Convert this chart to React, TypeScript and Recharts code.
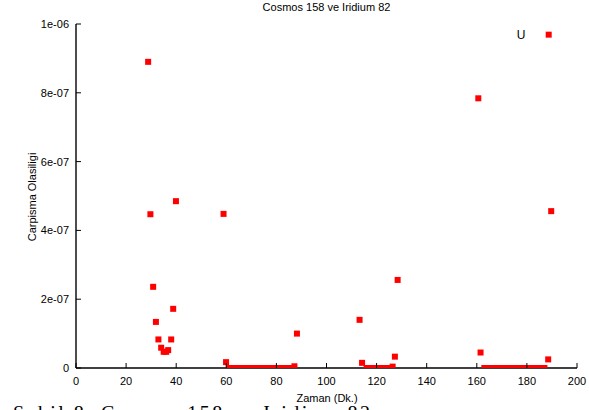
import React from 'react';
import { ScatterChart, Scatter, XAxis, YAxis } from 'recharts';

// ---- data (time in minutes, collision probability) ----
const clusterA_t = [28.8, 29.7, 30.8, 31.9, 32.9, 34.0, 35.0, 36.0, 36.8, 38.0, 38.8, 39.9];
const clusterA_p = [8.9e-7, 4.47e-7, 2.36e-7, 1.34e-7, 8.3e-8, 5.9e-8, 4.7e-8, 4.7e-8, 5.2e-8, 8.3e-8, 1.72e-7, 4.85e-7];

const clusterB_t = [58.9, 59.9, 61, 62, 63, 64, 65, 66, 67, 68, 69, 70, 71, 72, 73, 74, 75, 76, 77, 78, 79, 80, 81, 82, 83, 84, 85, 86, 87.2, 88.2];
const clusterB_p = [4.48e-7, 1.7e-8, 0, 0, 0, 0, 0, 0, 0, 0, 0, 0, 0, 0, 0, 0, 0, 0, 0, 0, 0, 0, 0, 0, 0, 0, 0, 0, 5e-9, 1.0e-7];

const clusterC_t = [113.2, 114.2, 116, 117, 118, 119, 120, 121, 122, 123, 124, 125, 126.4, 127.3, 128.4];
const clusterC_p = [1.4e-7, 1.5e-8, 0, 0, 0, 0, 0, 0, 0, 0, 0, 0, 4e-9, 3.3e-8, 2.56e-7];

const clusterD_t = [160.6, 161.5, 163, 164, 165, 166, 167, 168, 169, 170, 171, 172, 173, 174, 175, 176, 177, 178, 179, 180, 181, 182, 183, 184, 185, 186, 187, 188.5, 188.7, 189.7];
const clusterD_p = [7.84e-7, 4.5e-8, 0, 0, 0, 0, 0, 0, 0, 0, 0, 0, 0, 0, 0, 0, 0, 0, 0, 0, 0, 0, 0, 0, 0, 0, 0, 2.5e-8, 9.69e-7, 4.56e-7];

const xTicks = [0, 20, 40, 60, 80, 100, 120, 140, 160, 180, 200];
const yTicks = [0, 2e-7, 4e-7, 6e-7, 8e-7, 1e-6];
const yTickLabels = ['0', '2e-07', '4e-07', '6e-07', '8e-07', '1e-06'];

const title = 'Cosmos 158 ve Iridium 82';
const xLabel = 'Zaman (Dk.)';
const yLabel = 'Carpisma Olasiligi';
const keyLabel = 'U';
const caption = 'Şekil 8. Cosmos 158 ve Iridium 82';

const allT = [...clusterA_t, ...clusterB_t, ...clusterC_t, ...clusterD_t];
const allP = [...clusterA_p, ...clusterB_p, ...clusterC_p, ...clusterD_p];
const points = allT.map((t, i) => ({ t, p: allP[i] }));

const FONT = "'Liberation Sans', Arial, Helvetica, sans-serif";
const TICK = 5;
const X_MARGIN = 9;
const Y_MARGIN = 7;

const BottomTick = (props: any) => {
  const { x, y, payload } = props;
  const axisY = y - X_MARGIN;
  return (
    <g>
      <line x1={x} x2={x} y1={axisY} y2={axisY - TICK} stroke="#000" strokeWidth={1} />
      <text x={x} y={y} dy="0.71em" textAnchor="middle" fontFamily={FONT} fontSize={11} fill="#000">
        {payload.value}
      </text>
    </g>
  );
};

const TopTick = (props: any) => {
  const { x, y } = props;
  return <line x1={x} x2={x} y1={y} y2={y + TICK} stroke="#000" strokeWidth={1} />;
};

const LeftTick = (props: any) => {
  const { x, y, payload } = props;
  const axisX = x + Y_MARGIN;
  const idx = yTicks.indexOf(payload.value);
  return (
    <g>
      <line x1={axisX} x2={axisX + TICK} y1={y} y2={y} stroke="#000" strokeWidth={1} />
      <text x={x} y={y} dy="0.355em" textAnchor="end" fontFamily={FONT} fontSize={11} fill="#000">
        {idx >= 0 ? yTickLabels[idx] : String(payload.value)}
      </text>
    </g>
  );
};

const RightTick = (props: any) => {
  const { x, y } = props;
  return <line x1={x} x2={x - TICK} y1={y} y2={y} stroke="#000" strokeWidth={1} />;
};

const Square = (props: any) => {
  const { cx, cy } = props;
  if (cx == null || cy == null) return null;
  return <rect x={cx - 3} y={cy - 3} width={6} height={6} fill="#ff0000" />;
};

const axisLine = { stroke: '#000', strokeWidth: 1.4 };

export default function App() {
  return (
    <div style={{ position: 'absolute', left: 0, top: 0, width: 589, height: 410, background: '#fff', overflow: 'hidden' }}>
      <ScatterChart width={589} height={410} margin={{ top: 24, right: 12, bottom: 0, left: 0 }}>
        <XAxis
          xAxisId="b"
          dataKey="t"
          type="number"
          domain={[0, 200]}
          ticks={xTicks}
          interval={0}
          allowDataOverflow
          height={42}
          tickSize={0}
          tickMargin={X_MARGIN}
          tickLine={false}
          axisLine={axisLine}
          tick={<BottomTick />}
        />
        <XAxis
          xAxisId="t"
          orientation="top"
          dataKey="t"
          type="number"
          domain={[0, 200]}
          ticks={xTicks}
          interval={0}
          allowDataOverflow
          height={0}
          tickSize={0}
          tickMargin={0}
          tickLine={false}
          axisLine={axisLine}
          tick={<TopTick />}
        />
        <YAxis
          yAxisId="l"
          dataKey="p"
          type="number"
          domain={[0, 1e-6]}
          ticks={yTicks}
          interval={0}
          allowDataOverflow
          width={76}
          tickSize={0}
          tickMargin={Y_MARGIN}
          tickLine={false}
          axisLine={axisLine}
          tick={<LeftTick />}
        />
        <YAxis
          yAxisId="r"
          orientation="right"
          dataKey="p"
          type="number"
          domain={[0, 1e-6]}
          ticks={yTicks}
          interval={0}
          allowDataOverflow
          width={0}
          tickSize={0}
          tickMargin={0}
          tickLine={false}
          axisLine={axisLine}
          tick={<RightTick />}
        />
        <Scatter xAxisId="t" yAxisId="r" data={points} shape={() => null} isAnimationActive={false} />
        <Scatter xAxisId="b" yAxisId="l" data={points} shape={<Square />} isAnimationActive={false} />
      </ScatterChart>
      <svg width={589} height={410} style={{ position: 'absolute', left: 0, top: 0, pointerEvents: 'none' }}>
        <text x={326.5} y={11} textAnchor="middle" fontFamily={FONT} fontSize={11} fill="#000">{title}</text>
        <text x={327} y={401.5} textAnchor="middle" fontFamily={FONT} fontSize={11} fill="#000">{xLabel}</text>
        <text
          x={0}
          y={0}
          transform="translate(35.5,197) rotate(-90)"
          textAnchor="middle"
          fontFamily={FONT}
          fontSize={11}
          fill="#000"
        >
          {yLabel}
        </text>
        <text x={521} y={39} textAnchor="middle" fontFamily={FONT} fontSize={12} fill="#000">{keyLabel}</text>
        <text
          x={13}
          y={420}
          fontFamily="'Liberation Serif', 'Times New Roman', serif"
          fontSize={20}
          fill="#000"
          textLength={357}
          lengthAdjust="spacing"
        >
          {caption}
        </text>
      </svg>
    </div>
  );
}
